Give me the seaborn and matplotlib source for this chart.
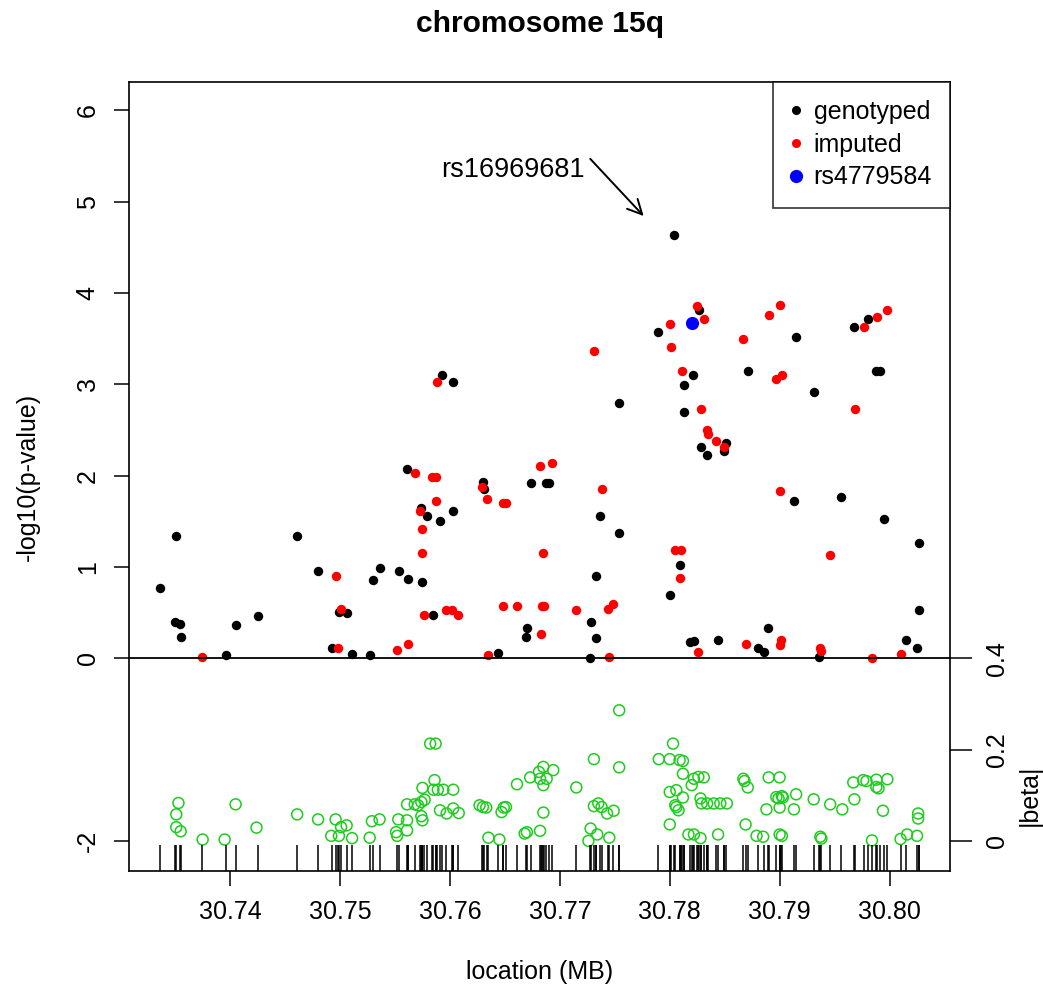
import numpy as np
import pandas as pd
import matplotlib
matplotlib.use("Agg")
import matplotlib.pyplot as plt
import seaborn as sns
from matplotlib.lines import Line2D

# genotyped SNPs: position (MB) and -log10(p)
geno_pos = [30.7336, 30.7351, 30.7350, 30.7354, 30.7355, 30.7396, 30.7405, 30.7425, 30.7461, 30.7480,
            30.7499, 30.7506, 30.7493, 30.7511, 30.7527, 30.7530, 30.7536, 30.7554, 30.7562, 30.7561,
            30.7593, 30.7603, 30.7789, 30.7754, 30.7574, 30.7579, 30.7591, 30.7603, 30.7575, 30.7585,
            30.7630, 30.7631, 30.7644, 30.7670, 30.7669, 30.7674, 30.7687, 30.7690, 30.7727, 30.7728,
            30.7733, 30.7733, 30.7737, 30.7754, 30.7804, 30.7827, 30.7821, 30.7813, 30.7813, 30.7851,
            30.7849, 30.7828, 30.7834, 30.7871, 30.7915, 30.7931, 30.7968, 30.7980, 30.7988, 30.7991,
            30.7913, 30.7956, 30.7995, 30.8027, 30.7809, 30.7800, 30.8027, 30.7818, 30.7822, 30.7844,
            30.7889, 30.7880, 30.7886, 30.7936, 30.8015, 30.8025]
geno_logp = [0.77, 1.34, 0.40, 0.38, 0.23, 0.03, 0.36, 0.46, 1.34, 0.95,
             0.51, 0.49, 0.11, 0.05, 0.03, 0.86, 0.99, 0.95, 0.87, 2.07,
             3.10, 3.03, 3.57, 2.79, 1.65, 1.56, 1.50, 1.61, 0.84, 0.47,
             1.93, 1.85, 0.06, 0.33, 0.23, 1.92, 1.92, 1.92, 0.00, 0.40,
             0.90, 0.22, 1.56, 1.37, 4.64, 3.81, 3.10, 2.99, 2.70, 2.36,
             2.27, 2.31, 2.23, 3.15, 3.52, 2.92, 3.63, 3.72, 3.15, 3.14,
             1.72, 1.77, 1.52, 1.26, 1.02, 0.69, 0.53, 0.18, 0.19, 0.20,
             0.33, 0.11, 0.07, 0.01, 0.20, 0.11]

# imputed SNPs
imp_pos = [30.7374, 30.7496, 30.7501, 30.7498, 30.7552, 30.7562, 30.7588, 30.7731, 30.7568, 30.7584,
           30.7587, 30.7587, 30.7573, 30.7575, 30.7575, 30.7576, 30.7596, 30.7602, 30.7607, 30.7629,
           30.7634, 30.7648, 30.7651, 30.7635, 30.7648, 30.7661, 30.7682, 30.7693, 30.7685, 30.7683,
           30.7684, 30.7686, 30.7715, 30.7738, 30.7744, 30.7748, 30.7745, 30.7825, 30.7831, 30.7800,
           30.7801, 30.7811, 30.7828, 30.7834, 30.7835, 30.7842, 30.7849, 30.7867, 30.7890, 30.7900,
           30.7897, 30.7902, 30.7969, 30.7977, 30.7989, 30.7998, 30.7900, 30.7946, 30.7805, 30.7810,
           30.7809, 30.7826, 30.7869, 30.7901, 30.7900, 30.7937, 30.7938, 30.7984, 30.8010]
imp_logp = [0.01, 0.90, 0.54, 0.11, 0.09, 0.16, 3.03, 3.36, 2.03, 1.98,
            1.98, 1.72, 1.61, 1.41, 1.15, 0.47, 0.53, 0.53, 0.47, 1.88,
            1.74, 1.70, 1.70, 0.03, 0.57, 0.57, 2.11, 2.14, 1.15, 0.27,
            0.57, 0.57, 0.53, 1.85, 0.54, 0.59, 0.01, 3.86, 3.71, 3.66,
            3.41, 3.15, 2.73, 2.50, 2.45, 2.38, 2.31, 3.50, 3.76, 3.87,
            3.06, 3.10, 2.73, 3.63, 3.74, 3.81, 1.83, 1.13, 1.19, 1.19,
            0.88, 0.07, 0.16, 0.20, 0.14, 0.11, 0.08, 0.00, 0.05]

# highlighted SNP
top_name = "rs4779584"
top_pos = [30.7820]
top_logp = [3.67]

# |beta| per SNP (lower panel)
beta_pos = [30.7353, 30.7351, 30.7351, 30.7355, 30.7405, 30.7375, 30.7395, 30.7424, 30.7461, 30.7480,
            30.7496, 30.7492, 30.7499, 30.7501, 30.7506, 30.7511, 30.7527, 30.7529, 30.7536, 30.7551,
            30.7552, 30.7553, 30.7561, 30.7561, 30.7561, 30.7582, 30.7587, 30.7754, 30.7731, 30.7754,
            30.7803, 30.7790, 30.7800, 30.7809, 30.7568, 30.7571, 30.7574, 30.7577, 30.7575, 30.7574,
            30.7575, 30.7586, 30.7585, 30.7589, 30.7594, 30.7603, 30.7591, 30.7597, 30.7603, 30.7608,
            30.7627, 30.7630, 30.7633, 30.7635, 30.7645, 30.7649, 30.7647, 30.7651, 30.7661, 30.7673,
            30.7681, 30.7685, 30.7694, 30.7682, 30.7688, 30.7685, 30.7685, 30.7670, 30.7668, 30.7682,
            30.7715, 30.7731, 30.7735, 30.7738, 30.7743, 30.7749, 30.7728, 30.7734, 30.7726, 30.7745,
            30.7800, 30.7806, 30.7800, 30.7806, 30.7808, 30.7812, 30.7812, 30.7822, 30.7826, 30.7831,
            30.7820, 30.7812, 30.7805, 30.7828, 30.7829, 30.7834, 30.7840, 30.7846, 30.7852, 30.7817,
            30.7822, 30.7828, 30.7844, 30.7867, 30.7868, 30.7871, 30.7890, 30.7900, 30.7869, 30.7879,
            30.7885, 30.7900, 30.7902, 30.7897, 30.7902, 30.7903, 30.7899, 30.7888, 30.7900, 30.7913,
            30.7915, 30.7931, 30.7946, 30.7957, 30.7968, 30.7937, 30.7938, 30.7967, 30.7976, 30.7979,
            30.7988, 30.7998, 30.7988, 30.7990, 30.7994, 30.7984, 30.8010, 30.8016, 30.8025, 30.8026,
            30.8026]
beta_abs = [0.083, 0.058, 0.030, 0.021, 0.080, 0.003, 0.003, 0.029, 0.058, 0.047,
            0.047, 0.011, 0.011, 0.030, 0.034, 0.006, 0.007, 0.043, 0.047, 0.019,
            0.011, 0.047, 0.080, 0.045, 0.023, 0.213, 0.213, 0.286, 0.179, 0.161,
            0.213, 0.179, 0.179, 0.177, 0.080, 0.078, 0.085, 0.090, 0.116, 0.054,
            0.045, 0.133, 0.112, 0.112, 0.112, 0.112, 0.067, 0.060, 0.071, 0.061,
            0.078, 0.074, 0.073, 0.007, 0.003, 0.073, 0.063, 0.074, 0.124, 0.139,
            0.151, 0.162, 0.155, 0.136, 0.136, 0.122, 0.062, 0.019, 0.016, 0.022,
            0.117, 0.076, 0.082, 0.074, 0.060, 0.066, 0.027, 0.014, 0.000, 0.007,
            0.107, 0.111, 0.036, 0.074, 0.067, 0.175, 0.147, 0.136, 0.140, 0.139,
            0.122, 0.095, 0.078, 0.093, 0.082, 0.082, 0.082, 0.082, 0.082, 0.014,
            0.014, 0.006, 0.014, 0.136, 0.131, 0.117, 0.139, 0.139, 0.036, 0.011,
            0.009, 0.014, 0.011, 0.096, 0.098, 0.095, 0.093, 0.069, 0.073, 0.069,
            0.102, 0.091, 0.080, 0.069, 0.091, 0.009, 0.005, 0.128, 0.133, 0.131,
            0.134, 0.135, 0.118, 0.115, 0.066, 0.001, 0.004, 0.014, 0.011, 0.060,
            0.049]

x_ticks = [30.74, 30.75, 30.76, 30.77, 30.78, 30.79, 30.80]
left_ticks = [-2, 0, 1, 2, 3, 4, 5, 6]
beta_ticks = [0, 0.2, 0.4]
arrow_label = "rs16969681"

sns.set_style("ticks")
plt.rcParams['font.family'] = ['Liberation Sans', 'DejaVu Sans']
plt.rcParams['axes.unicode_minus'] = False
for key in ["text.color", "axes.labelcolor", "xtick.color", "ytick.color"]:
    plt.rcParams[key] = "black"

GREEN = "#1ECC1E"

fig = plt.figure(figsize=(10.43, 9.9), dpi=100)
ax = fig.add_axes([129 / 1043, 1 - 871 / 990, (950 - 129) / 1043, (871 - 82) / 990])

ylo, yhi = -2.33, 6.31
ax.set_xlim(30.7308, 30.8055)
ax.set_ylim(ylo, yhi)

# lower panel: |beta| mapped onto -2..0
beta_df = pd.DataFrame({"pos": beta_pos, "y": -2 + 5 * np.array(beta_abs)})
sns.scatterplot(data=beta_df, x="pos", y="y", ax=ax, s=62, marker="o",
                facecolors="none", edgecolor=GREEN, color=GREEN, linewidth=1.1, legend=False)

# rug of all SNP positions
all_pos = np.concatenate([geno_pos, imp_pos, top_pos])
ax.vlines(all_pos, ylo, -2.05, color="black", lw=1.1)

ax.axhline(0, color="black", lw=1.3)

geno = pd.DataFrame({"pos": geno_pos, "logp": geno_logp})
imp = pd.DataFrame({"pos": imp_pos, "logp": imp_logp})
sns.scatterplot(data=geno, x="pos", y="logp", ax=ax, color="black", s=46, linewidth=0, legend=False)
sns.scatterplot(data=imp, x="pos", y="logp", ax=ax, color="#FF0000", s=46, linewidth=0, legend=False)
sns.scatterplot(x=top_pos, y=top_logp, ax=ax, color="#0000FF", s=90, linewidth=0, legend=False)

# annotate the top genotyped hit
i_top = int(np.argmax(geno_logp))
hx, hy = geno_pos[i_top], geno_logp[i_top]
ax.annotate("", xy=(hx - 0.0026, hy + 0.18), xytext=(hx - 0.0078, hy + 0.85),
            arrowprops=dict(arrowstyle="->", lw=1.4, color="black", mutation_scale=26))
ax.text(hx - 0.0081, hy + 0.71, arrow_label, ha="right", va="center", fontsize=19.5)

ax.set_xticks(x_ticks)
ax.set_xticklabels([f"{v:.2f}" for v in x_ticks])
ax.set_yticks(left_ticks)
ax.set_yticklabels([str(v) for v in left_ticks], rotation=90, va="center")
ax.tick_params(direction="out", length=11, width=1.1, labelsize=18, color="black")
ax.tick_params(axis="x", pad=10)
ax.tick_params(axis="y", pad=10)
for sp in ax.spines.values():
    sp.set_visible(True)
    sp.set_linewidth(1.2)
    sp.set_color("black")

ax.set_xlabel("location (MB)", fontsize=18)
ax.xaxis.set_label_coords(0.5, -0.113)
ax.set_ylabel("-log10(p-value)", fontsize=18)
ax.yaxis.set_label_coords(-0.108, 0.5)

# right axis for |beta|
ax2 = ax.twinx()
ax2.set_ylim(ylo, yhi)
ax2.set_yticks([-2 + 5 * b for b in beta_ticks])
ax2.set_yticklabels(["0", "0.2", "0.4"], rotation=90, va="center")
ax2.tick_params(direction="out", length=16, width=1.1, labelsize=18, pad=9, color="black")
for sp in ax2.spines.values():
    sp.set_visible(False)
ax2.text(1.097, -1.5, "|beta|", transform=ax2.get_yaxis_transform(), rotation=90,
         ha="center", va="center", fontsize=18)

handles = [Line2D([], [], marker="o", ls="", color="black", markersize=5.5),
           Line2D([], [], marker="o", ls="", color="#FF0000", markersize=5.5),
           Line2D([], [], marker="o", ls="", color="#0000FF", markersize=8.5)]
leg = ax.legend(handles, ["genotyped", "imputed", top_name], loc="upper right",
                fontsize=18, frameon=True, fancybox=False, borderaxespad=0,
                handlelength=0.4, handletextpad=0.5, labelspacing=0.35, borderpad=0.72)
leg.get_frame().set_edgecolor("black")
leg.get_frame().set_linewidth(1.2)

fig.text(539.5 / 1043, 1 - 24 / 990, "chromosome 15q", ha="center", va="center",
         fontsize=21.6, fontweight="bold")

fig.savefig("out.png", dpi=100)
